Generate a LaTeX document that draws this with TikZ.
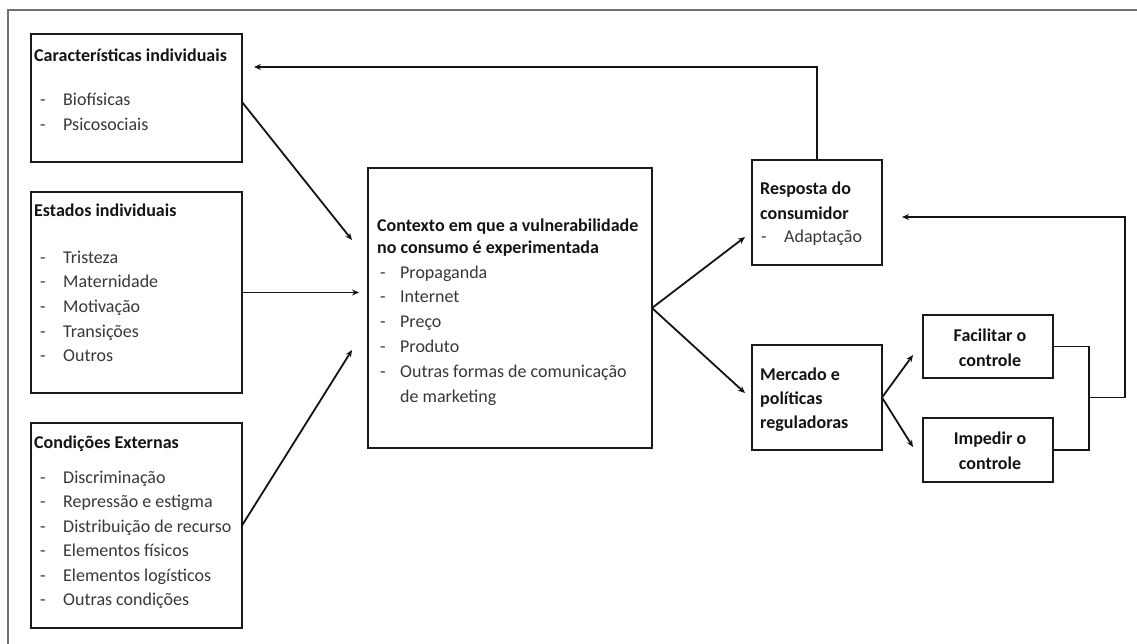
\documentclass[tikz,border=0pt]{standalone}
\usepackage{fontspec}
\setmainfont{Carlito}
\usetikzlibrary{arrows.meta,calc}
\begin{document}
\begin{tikzpicture}[x=1pt,y=-1pt,
  box/.style={draw=black!90,line width=2pt,inner sep=0pt,outer sep=0pt},
  txt/.style={anchor=base west,inner sep=0pt,font=\fontsize{18}{22}\selectfont},
  ttl/.style={txt,font=\fontsize{18}{22}\selectfont\bfseries,text=black!92},
  itm/.style={txt,text=black!78},
  ctr/.style={anchor=base,inner sep=0pt,font=\fontsize{18}{22}\selectfont\bfseries,text=black!92},
  conn/.style={draw=black!92,line width=1.8pt},
  arr/.style={conn,-{Stealth[length=7pt,width=6pt]}},
  frame/.style={draw=black!55,line width=1.3pt}]
\useasboundingbox (0,0) rectangle (1137,644);
\fill[white] (0,0) rectangle (1137,644);
% outer frame (cropped)
\coordinate (fr1) at (1137,10);
\coordinate (fr2) at (8,10);
\coordinate (fr3) at (8,644);
\draw[frame] (fr1) -- (fr2) -- (fr3);

% boxes
\node[box,minimum width=211pt,minimum height=128pt] (b1) at (136.5,98) {};
\node[box,minimum width=211pt,minimum height=201pt] (b2) at (136.5,292.5) {};
\node[box,minimum width=211pt,minimum height=205pt] (b3) at (136.5,525.5) {};
\node[box,minimum width=284pt,minimum height=280pt] (ctx) at (510,308) {};
\node[box,minimum width=130pt,minimum height=105pt] (resp) at (817,212.5) {};
\node[box,minimum width=130pt,minimum height=105pt] (merc) at (817,397.5) {};
\node[box,minimum width=130pt,minimum height=63pt] (fac) at (988,346.5) {};
\node[box,minimum width=130pt,minimum height=64pt] (imp) at (988,450) {};

% texts box 1
\node[ttl] (b1t) at (34,62) {Características individuais};
\foreach \t [count=\i from 0] in {Biofísicas,Psicosociais}
  \node[itm] (b1i\i) at (40,106+24.3*\i) {\makebox[23pt][l]{-}\t};
% texts box 2
\node[ttl] (b2t) at (34,217) {Estados individuais};
\foreach \t [count=\i from 0] in {Tristeza,Maternidade,Motivação,Transições,Outros}
  \node[itm] (b2i\i) at (40,263+24.7*\i) {\makebox[23pt][l]{-}\t};
% texts box 3
\node[ttl] (b3t) at (34,448) {Condições Externas};
\foreach \t [count=\i from 0] in {Discriminação,Repressão e estigma,Distribuição de recurso,Elementos físicos,Elementos logísticos,Outras condições}
  \node[itm] (b3i\i) at (40,483+24.5*\i) {\makebox[23pt][l]{-}\t};
% center
\node[ttl] (ct1) at (377,232) {Contexto em que a vulnerabilidade};
\node[ttl] (ct2) at (377,254) {no consumo é experimentada};
\foreach \t [count=\i from 0] in {Propaganda,Internet,Preço,Produto,Outras formas de comunicação}
  \node[itm] (ci\i) at (380,278+24.8*\i) {\makebox[20pt][l]{-}\t};
\node[itm] (ci5) at (400,402) {de marketing};
% resposta
\node[ttl] (rt1) at (760,195) {Resposta do};
\node[ttl] (rt2) at (760,220) {consumidor};
\node[itm] (ri0) at (761,243) {\makebox[23pt][l]{-}Adaptação};
% mercado
\node[ttl] (mt1) at (760,380) {Mercado e};
\node[ttl] (mt2) at (760,404) {políticas};
\node[ttl] (mt3) at (760,428) {reguladoras};
% facilitar / impedir
\node[ctr] (ft1) at (990,341) {Facilitar o};
\node[ctr] (ft2) at (990,366) {controle};
\node[ctr] (it1) at (990,444) {Impedir o};
\node[ctr] (it2) at (990,469) {controle};

% arrow end points
\coordinate (c1) at (352,240);
\coordinate (c2) at (359,292.5);
\coordinate (c3) at (352,350);
\coordinate (r1) at (745,237);
\coordinate (m1) at (745,393);
\coordinate (f1) at (913,355);
\coordinate (i1) at (913,447);
\coordinate (top1) at (817,67);
\coordinate (tip1) at (254,67);
\coordinate (jx) at (1089,397.5);
\coordinate (rx) at (1125,397.5);
\coordinate (ry) at (1125,217);
\coordinate (tip2) at (902,217);

% connectors
\draw[arr] ([yshift=-4pt]b1.east) -- (c1);
\draw[arr] (b2.east) -- (c2);
\draw[arr] (b3.east) -- (c3);
\draw[arr] (ctx.east) -- (r1);
\draw[arr] (ctx.east) -- (m1);
\draw[arr] (merc.east) -- (f1);
\draw[arr] (merc.east) -- (i1);
\draw[arr] (resp.north) -- (top1) -- (tip1);
\draw[conn] (fac.east) -| (jx) |- (imp.east);
\draw[arr] (jx) -- (rx) -- (ry) -- (tip2);
\end{tikzpicture}
\end{document}
